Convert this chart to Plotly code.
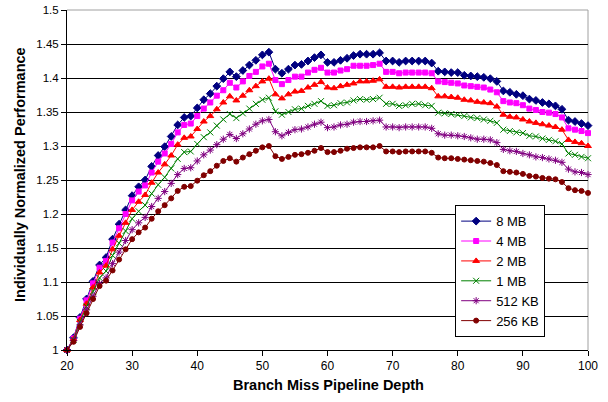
import plotly.graph_objects as go

depth = list(range(20, 101))

mb8 = [1.000, 1.018, 1.048, 1.075, 1.101, 1.125, 1.136, 1.163, 1.185, 1.206,
       1.227, 1.240, 1.250, 1.270, 1.286, 1.299, 1.314, 1.331, 1.342, 1.344,
       1.356, 1.368, 1.377, 1.388, 1.399, 1.409, 1.402, 1.411, 1.419, 1.426,
       1.434, 1.438, 1.413, 1.407, 1.413, 1.419, 1.420, 1.425, 1.430, 1.434,
       1.423, 1.423, 1.426, 1.429, 1.433, 1.435, 1.435, 1.435, 1.437, 1.425,
       1.425, 1.423, 1.425, 1.425, 1.425, 1.425, 1.422, 1.410, 1.409, 1.408,
       1.408, 1.404, 1.403, 1.402, 1.401, 1.399, 1.395, 1.381, 1.379, 1.376,
       1.374, 1.369, 1.367, 1.364, 1.362, 1.359, 1.354, 1.338, 1.336, 1.333,
       1.330]

mb4 = [1.000, 1.017, 1.046, 1.073, 1.098, 1.121, 1.131, 1.158, 1.179, 1.200,
       1.220, 1.233, 1.242, 1.261, 1.277, 1.289, 1.303, 1.320, 1.331, 1.333,
       1.344, 1.355, 1.364, 1.374, 1.382, 1.393, 1.386, 1.395, 1.403, 1.409,
       1.417, 1.421, 1.397, 1.391, 1.397, 1.402, 1.402, 1.408, 1.412, 1.415,
       1.408, 1.408, 1.411, 1.413, 1.418, 1.418, 1.418, 1.419, 1.421, 1.409,
       1.409, 1.407, 1.408, 1.408, 1.408, 1.408, 1.407, 1.395, 1.394, 1.393,
       1.392, 1.389, 1.388, 1.387, 1.386, 1.383, 1.379, 1.366, 1.364, 1.363,
       1.360, 1.355, 1.353, 1.350, 1.349, 1.347, 1.342, 1.326, 1.324, 1.322,
       1.319]

mb2 = [1.000, 1.016, 1.044, 1.068, 1.092, 1.114, 1.124, 1.148, 1.168, 1.187,
       1.206, 1.218, 1.228, 1.246, 1.261, 1.273, 1.286, 1.302, 1.312, 1.314,
       1.325, 1.336, 1.344, 1.354, 1.364, 1.373, 1.367, 1.374, 1.382, 1.388,
       1.395, 1.399, 1.376, 1.370, 1.376, 1.380, 1.381, 1.386, 1.390, 1.394,
       1.386, 1.385, 1.388, 1.390, 1.392, 1.395, 1.395, 1.396, 1.398, 1.387,
       1.387, 1.386, 1.387, 1.387, 1.387, 1.387, 1.385, 1.373, 1.373, 1.372,
       1.371, 1.368, 1.367, 1.365, 1.364, 1.363, 1.358, 1.346, 1.343, 1.342,
       1.339, 1.336, 1.334, 1.332, 1.330, 1.328, 1.324, 1.309, 1.306, 1.304,
       1.300]

mb1 = [1.000, 1.015, 1.041, 1.064, 1.086, 1.106, 1.116, 1.139, 1.157, 1.175,
       1.193, 1.204, 1.213, 1.230, 1.243, 1.254, 1.267, 1.281, 1.291, 1.292,
       1.303, 1.313, 1.320, 1.330, 1.339, 1.347, 1.341, 1.348, 1.355, 1.362,
       1.368, 1.371, 1.351, 1.346, 1.350, 1.354, 1.355, 1.359, 1.362, 1.366,
       1.359, 1.360, 1.363, 1.364, 1.367, 1.369, 1.368, 1.369, 1.371, 1.362,
       1.362, 1.359, 1.360, 1.362, 1.362, 1.360, 1.359, 1.349, 1.348, 1.347,
       1.346, 1.344, 1.342, 1.341, 1.339, 1.337, 1.334, 1.324, 1.322, 1.320,
       1.319, 1.315, 1.314, 1.311, 1.309, 1.307, 1.303, 1.289, 1.287, 1.284,
       1.282]

kb512 = [1.000, 1.014, 1.037, 1.059, 1.079, 1.098, 1.106, 1.127, 1.144, 1.161,
         1.177, 1.187, 1.195, 1.211, 1.223, 1.233, 1.245, 1.258, 1.267, 1.268,
         1.278, 1.287, 1.294, 1.302, 1.310, 1.317, 1.311, 1.318, 1.325, 1.332,
         1.337, 1.339, 1.321, 1.315, 1.320, 1.324, 1.325, 1.328, 1.332, 1.335,
         1.327, 1.328, 1.331, 1.332, 1.335, 1.336, 1.336, 1.337, 1.338, 1.328,
         1.328, 1.327, 1.328, 1.328, 1.328, 1.328, 1.326, 1.318, 1.316, 1.316,
         1.315, 1.314, 1.312, 1.310, 1.310, 1.309, 1.305, 1.295, 1.293, 1.292,
         1.289, 1.287, 1.284, 1.283, 1.281, 1.279, 1.276, 1.266, 1.262, 1.261,
         1.258]

kb256 = [1.000, 1.012, 1.034, 1.054, 1.075, 1.094, 1.102, 1.117, 1.133, 1.148,
         1.163, 1.173, 1.180, 1.193, 1.204, 1.213, 1.223, 1.234, 1.240, 1.241,
         1.249, 1.257, 1.263, 1.271, 1.278, 1.282, 1.277, 1.283, 1.288, 1.293,
         1.298, 1.300, 1.285, 1.281, 1.284, 1.287, 1.288, 1.290, 1.293, 1.297,
         1.291, 1.291, 1.293, 1.296, 1.297, 1.298, 1.298, 1.298, 1.300, 1.292,
         1.292, 1.291, 1.292, 1.292, 1.292, 1.292, 1.290, 1.283, 1.282, 1.282,
         1.281, 1.280, 1.279, 1.278, 1.277, 1.275, 1.272, 1.263, 1.262, 1.261,
         1.259, 1.256, 1.255, 1.253, 1.252, 1.251, 1.247, 1.238, 1.235, 1.234,
         1.231]

series_names = ["8 MB", "4 MB", "2 MB", "1 MB", "512 KB", "256 KB"]
series_values = [mb8, mb4, mb2, mb1, kb512, kb256]
colors = ["#000080", "#FF00FF", "#FF0000", "#008000", "#800080", "#800000"]
symbols = ["diamond", "square", "triangle-up", "x-thin-open", "asterisk-open", "circle"]
sizes = [6, 5, 6, 6, 6, 5]

y_ticks = [1, 1.05, 1.1, 1.15, 1.2, 1.25, 1.3, 1.35, 1.4, 1.45, 1.5]
y_ticktext = ["1", "1.05", "1.1", "1.15", "1.2", "1.25", "1.3", "1.35", "1.4", "1.45", "1.5"]
x_ticks = [20, 30, 40, 50, 60, 70, 80, 90, 100]

x_title = "Branch Miss Pipeline Depth"
y_title = "Individually Normalized Performance"

fig = go.Figure()
for name, vals, col, sym, sz in zip(series_names, series_values, colors, symbols, sizes):
    fig.add_trace(go.Scatter(
        x=depth, y=vals, name=name, mode="lines+markers",
        line=dict(color=col, width=1),
        marker=dict(symbol=sym, size=sz, color=col, line=dict(color=col, width=1)),
        cliponaxis=False,
    ))

font_family = "Liberation Sans, Arial, sans-serif"

fig.update_layout(
    width=608, height=402,
    margin=dict(l=67, r=20, t=10, b=52),
    paper_bgcolor="white", plot_bgcolor="white",
    font=dict(family=font_family, size=12, color="black"),
    showlegend=True,
    legend=dict(
        x=0.745, y=0.426, xanchor="left", yanchor="top",
        bgcolor="white", bordercolor="#000000", borderwidth=1,
        font=dict(family=font_family, size=13, color="black"),
        tracegroupgap=0, itemwidth=30,
    ),
    xaxis=dict(
        range=[20, 100], tickvals=x_ticks, ticks="outside", ticklen=5,
        tickcolor="black", showline=True, linecolor="black", linewidth=1,
        showgrid=False, zeroline=False, automargin=False,
        tickfont=dict(size=12),
    ),
    yaxis=dict(
        range=[1, 1.5], tickvals=y_ticks, ticktext=y_ticktext,
        ticks="outside", ticklen=5, tickcolor="black",
        showline=True, linecolor="black", linewidth=1,
        showgrid=True, gridcolor="black", gridwidth=1, zeroline=False,
        automargin=False,
        tickfont=dict(size=11.5),
    ),
    annotations=[
        dict(text="<b>" + x_title + "</b>", xref="paper", yref="paper",
             x=0.501, y=-0.103, xanchor="center", yanchor="middle",
             showarrow=False, font=dict(family=font_family, size=14.5)),
        dict(text="<b>" + y_title + "</b>", xref="paper", yref="paper",
             x=-0.090, y=0.515, xanchor="center", yanchor="middle", textangle=-90,
             showarrow=False, font=dict(family=font_family, size=14.5)),
    ],
)

# gray plot-area border on top and right
fig.add_shape(type="line", xref="x domain", yref="y domain", x0=0, x1=1, y0=1, y1=1,
              line=dict(color="#A0A0A0", width=1), layer="above")
fig.add_shape(type="line", xref="x domain", yref="y domain", x0=1, x1=1, y0=0, y1=1,
              line=dict(color="#A0A0A0", width=1), layer="below")

fig.write_html("out.html", config={"displayModeBar": False},
               post_script="document.body.style.margin='0px';")
